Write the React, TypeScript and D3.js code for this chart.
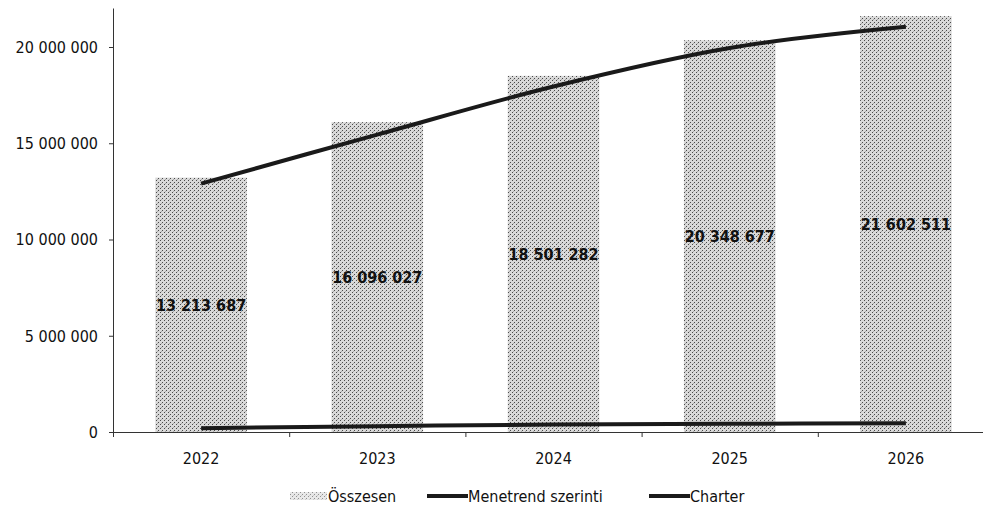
import React, { useRef, useEffect } from 'react';
import * as d3 from 'd3';

const years = ['2022', '2023', '2024', '2025', '2026'];
const osszesen = [13213687, 16096027, 18501282, 20348677, 21602511];
const menetrend = [12900000, 15450000, 17950000, 19950000, 21050000];
const charter = [200000, 300000, 390000, 430000, 450000];
const yTicks = [0, 5000000, 10000000, 15000000, 20000000];

const FONT = '"DejaVu Sans Condensed", "DejaVu Sans", sans-serif';

const App = () => {
  const ref = useRef<SVGSVGElement>(null);

  useEffect(() => {
    const svg = d3.select(ref.current);
    svg.selectAll('*').remove();

    const x = d3.scaleBand().domain(years).range([113, 994]).padding(0);
    const y = d3.scaleLinear().domain([0, 22000000]).range([432, 8.5]);
    const fmt = (v: number) => d3.format(',')(v).replace(/,/g, ' ');

    // stippled texture like the scanned bars
    const defs = svg.append('defs');
    const pat = defs
      .append('pattern')
      .attr('id', 'stipple')
      .attr('width', 4)
      .attr('height', 4)
      .attr('patternUnits', 'userSpaceOnUse');
    pat.append('rect').attr('width', 4).attr('height', 4).attr('fill', '#d9d9d9');
    pat.append('rect').attr('x', 0).attr('y', 0).attr('width', 1).attr('height', 1).attr('fill', '#4a4a4a');
    pat.append('rect').attr('x', 2).attr('y', 2).attr('width', 1).attr('height', 1).attr('fill', '#4a4a4a');
    pat.append('rect').attr('x', 1).attr('y', 3).attr('width', 1).attr('height', 1).attr('fill', '#aaaaaa');

    const barW = x.bandwidth() * 0.52;
    const cx = (d: string) => (x(d) as number) + x.bandwidth() / 2;

    svg
      .selectAll('.bar')
      .data(years)
      .enter()
      .append('rect')
      .attr('x', (d) => cx(d) - barW / 2)
      .attr('width', barW)
      .attr('y', (d, i) => y(osszesen[i]))
      .attr('height', (d, i) => y(0) - y(osszesen[i]))
      .attr('fill', 'url(#stipple)');

    // axes
    const ax = svg.append('g').attr('stroke', '#333').attr('stroke-width', 1);
    ax.append('line').attr('x1', 113.5).attr('x2', 113.5).attr('y1', y(22000000)).attr('y2', y(0));
    ax.append('line').attr('x1', 113).attr('x2', 983).attr('y1', y(0) + 0.5).attr('y2', y(0) + 0.5);
    yTicks.forEach((t) => {
      ax.append('line').attr('x1', 109).attr('x2', 113).attr('y1', y(t) + 0.5).attr('y2', y(t) + 0.5);
    });
    years.forEach((d) => {
      ax.append('line')
        .attr('x1', (x(d) as number) + 0.5)
        .attr('x2', (x(d) as number) + 0.5)
        .attr('y1', y(0))
        .attr('y2', y(0) + 5);
    });

    svg
      .selectAll('.ytick')
      .data(yTicks)
      .enter()
      .append('text')
      .attr('x', 98)
      .attr('y', (d) => y(d))
      .attr('dy', '0.36em')
      .attr('text-anchor', 'end')
      .style('font-family', FONT)
      .style('font-size', '16px')
      .attr('fill', '#111')
      .text((d) => fmt(d));

    svg
      .selectAll('.xtick')
      .data(years)
      .enter()
      .append('text')
      .attr('x', (d) => cx(d))
      .attr('y', 458)
      .attr('dy', '0.36em')
      .attr('text-anchor', 'middle')
      .style('font-family', FONT)
      .style('font-size', '16px')
      .attr('fill', '#111')
      .text((d) => d);

    // lines
    const line = (vals: number[]) =>
      d3
        .line<string>()
        .x((d) => cx(d))
        .y((d, i) => y(vals[i]))
        .curve(d3.curveCatmullRom.alpha(0.5))(years);

    svg
      .append('path')
      .attr('d', line(menetrend))
      .attr('fill', 'none')
      .attr('stroke', '#1a1a1a')
      .attr('stroke-width', 4);
    svg
      .append('path')
      .attr('d', line(charter))
      .attr('fill', 'none')
      .attr('stroke', '#1a1a1a')
      .attr('stroke-width', 4);

    // value labels in the middle of the bars
    svg
      .selectAll('.lbl')
      .data(years)
      .enter()
      .append('text')
      .attr('x', (d) => cx(d))
      .attr('y', (d, i) => (y(osszesen[i]) + y(0)) / 2)
      .attr('dy', '0.36em')
      .attr('text-anchor', 'middle')
      .style('font-family', FONT)
      .style('font-size', '16px')
      .style('font-weight', 'bold')
      .attr('fill', '#111')
      .text((d, i) => fmt(osszesen[i]));

    // legend
    const leg = svg.append('g');
    const ly = 496;
    leg.append('rect').attr('x', 290).attr('y', ly - 4).attr('width', 37).attr('height', 8).attr('fill', 'url(#stipple)').attr('opacity', 0.6);
    leg.append('text').attr('x', 328).attr('y', ly).attr('dy', '0.36em').style('font-family', FONT).style('font-size', '16px').attr('fill', '#111').text('Összesen');
    leg.append('line').attr('x1', 427).attr('x2', 468).attr('y1', ly).attr('y2', ly).attr('stroke', '#1a1a1a').attr('stroke-width', 4);
    leg.append('text').attr('x', 468).attr('y', ly).attr('dy', '0.36em').style('font-family', FONT).style('font-size', '16px').attr('fill', '#111').text('Menetrend szerinti');
    leg.append('line').attr('x1', 649).attr('x2', 690).attr('y1', ly).attr('y2', ly).attr('stroke', '#1a1a1a').attr('stroke-width', 4);
    leg.append('text').attr('x', 690).attr('y', ly).attr('dy', '0.36em').style('font-family', FONT).style('font-size', '16px').attr('fill', '#111').text('Charter');
  }, []);

  return (
    <svg
      ref={ref}
      width={983}
      height={508}
      style={{ position: 'absolute', left: 0, top: 0, background: '#fff' }}
    />
  );
};

export default App;
